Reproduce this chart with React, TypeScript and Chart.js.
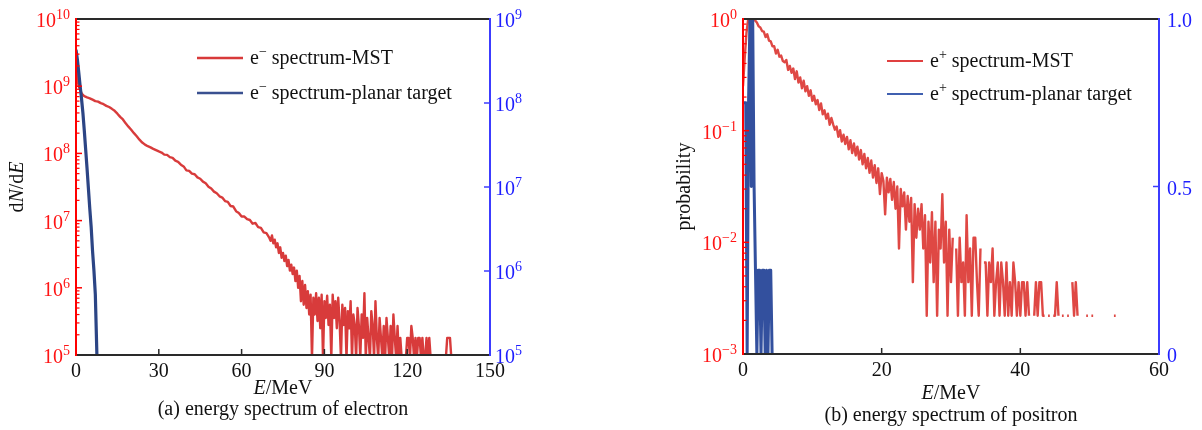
import React, { useEffect, useRef } from "react";
import { Chart, registerables } from "chart.js";
Chart.register(...registerables);

// ---------------- DATA ----------------
// (a) electron spectrum, MST (dN/dE) – head part, energies in MeV
const elecHeadE = [0, 0.25, 0.5, 0.75, 1, 1.5, 2, 2.5, 3, 4, 5, 6, 7, 8, 9, 10,
  11, 12, 13, 14, 15, 16, 17, 18, 19, 20, 21, 22, 23, 24, 25, 26, 27, 28, 29, 30,
  31, 32, 33, 34, 35, 36, 37, 38, 39, 40, 41, 42, 43, 44, 45, 46, 47, 48, 49, 50,
  51, 52, 53, 54, 55, 56, 57, 58, 59, 60, 61, 62, 63, 64, 65, 66, 67, 68, 69, 70];
const elecHeadN = [2.5e9, 1.8e9, 1.3e9, 1.12e9, 1.0e9, 8.9e8, 7.9e8, 7.4e8, 7.1e8,
  6.8e8, 6.6e8, 6.3e8, 6.0e8, 5.9e8, 5.6e8, 5.4e8,
  5.1e8, 4.9e8, 4.6e8, 4.3e8, 3.9e8, 3.5e8, 3.2e8, 2.8e8, 2.5e8, 2.25e8,
  2.0e8, 1.8e8, 1.6e8, 1.45e8, 1.35e8, 1.28e8, 1.23e8, 1.17e8, 1.12e8, 1.07e8,
  1.03e8, 9.6e7, 9.5e7, 8.8e7, 8.6e7, 7.8e7, 7.5e7, 6.8e7, 6.4e7, 5.6e7,
  5.5e7, 5.0e7, 4.9e7, 4.4e7, 4.2e7, 3.8e7, 3.6e7, 3.2e7, 3.0e7, 2.7e7,
  2.55e7, 2.3e7, 2.2e7, 1.95e7, 1.9e7, 1.65e7, 1.62e7, 1.38e7, 1.3e7, 1.15e7,
  1.15e7, 1.05e7, 1.02e7, 9.0e6, 9.2e6, 8.0e6, 7.8e6, 6.7e6, 6.5e6, 5.6e6];
// MST tail, histogram bins of 0.5 MeV starting at 70.5 MeV
const ELEC_TAIL_START = 70.5;
const ELEC_TAIL_BIN = 0.5;
const elecTailN = [
  5.0e6, 6.0e6, 4.6e6, 5.2e6, 4.0e6, 4.6e6, 3.3e6, 4.0e6, 2.8e6, 3.3e6,
  2.5e6, 3.0e6, 2.1e6, 2.6e6, 1.8e6, 2.2e6, 1.6e6, 2.0e6, 1.26e6, 1.8e6,
  1.0e6, 1.5e6, 6.3e5, 1.26e6, 5.6e5, 1.1e6, 5.0e5, 8.9e5, 4.0e5, 7.9e5,
  8.9e4, 7.1e5, 4.0e5, 8.3e5, 3.2e5, 7.1e5, 2.5e5, 7.9e5, 8.9e4, 6.3e5,
  3.55e5, 7.6e5, 2.8e5, 5.6e5, 8.9e4, 7.9e5, 3.55e5, 6.3e5, 2.5e5, 7.1e5,
  3.2e5, 8.9e4, 5.6e5, 2.8e5, 5.0e5, 8.9e4, 4.5e5, 2.5e5, 6.3e5, 8.9e4,
  4.0e5, 2.8e5, 8.9e4, 5.0e5, 2.7e5, 8.9e4, 4.0e5, 1.8e5, 8.3e5, 8.9e4,
  3.55e5, 1.8e5, 8.9e4, 4.5e5, 2.7e5, 8.9e4, 6.3e5, 1.8e5, 8.9e4, 3.55e5,
  1.8e5, 8.9e4, 2.7e5, 8.9e4, 3.55e5, 1.8e5, 8.9e4, 2.7e5, 8.9e4, 4.0e5,
  1.8e5, 8.9e4, 2.7e5, 8.9e4, 1.8e5, 8.9e4, 8.9e4, 8.9e4, 8.9e4, 1.8e5,
  1.8e5, 8.9e4, 2.7e5, 1.8e5, 8.9e4, 1.8e5, 8.9e4, 1.8e5, 1.8e5, 8.9e4,
  1.8e5, 8.9e4, 8.9e4, 1.8e5, 8.9e4, 1.8e5, 8.9e4, 8.9e4, 8.9e4, 8.9e4,
  8.9e4, 8.9e4, 8.9e4, 8.9e4, 8.9e4, 8.9e4, 8.9e4, 8.9e4, 1.8e5, 1.8e5,
  1.8e5, 8.9e4];
// (a) electron spectrum, planar target
const planarElecE = [0, 0.5, 1, 1.5, 2, 2.5, 3, 3.5, 4, 4.5, 5, 5.5, 6, 6.5, 7, 7.5, 8];
const planarElecN = [3.5e9, 2.5e9, 1.6e9, 1.0e9, 6.5e8, 4.0e8, 2.2e8, 1.15e8, 6.0e7,
  3.0e7, 1.5e7, 8.0e6, 3.5e6, 1.8e6, 8.0e5, 1.3e5, 2.0e4];

// (b) positron spectrum, MST: probability per 0.25 MeV bin (null = empty bin)
const POS_BIN = 0.25;
const posMstP = [
  0.25, 0.45, 0.75, 1.0, 1.0, 1.0, 1.0, 0.97,
  0.93, 0.86, 0.84, 0.78, 0.77, 0.69, 0.73, 0.64,
  0.63, 0.57, 0.57, 0.49, 0.53, 0.46, 0.47, 0.42,
  0.41, 0.43, 0.35, 0.38, 0.33, 0.36, 0.29, 0.34,
  0.27, 0.30, 0.24, 0.28, 0.225, 0.25, 0.205, 0.23,
  0.185, 0.205, 0.172, 0.188, 0.153, 0.175, 0.14, 0.152,
  0.128, 0.142, 0.113, 0.13, 0.114, 0.102, 0.109, 0.088,
  0.101, 0.08, 0.092, 0.076, 0.088, 0.068, 0.082, 0.063,
  0.077, 0.06, 0.072, 0.055, 0.067, 0.05, 0.062, 0.046,
  0.057, 0.042, 0.054, 0.038, 0.049, 0.034, 0.046, 0.027,
  0.0417, 0.0355, 0.0178, 0.038, 0.028, 0.037, 0.024, 0.0347,
  0.020, 0.0316, 0.0088, 0.030, 0.021, 0.028, 0.013, 0.026,
  0.0153, 0.025, 0.0044, 0.022, 0.011, 0.020, 0.013, 0.022,
  0.0088, 0.0175, 0.0022, 0.0153, 0.0066, 0.0186, 0.0044, 0.0153,
  0.0022, 0.013, 0.0088, 0.027, 0.0066, 0.0153, 0.0022, 0.013,
  0.0044, 0.011, null, 0.0088, 0.0022, 0.011, 0.0044, 0.0066,
  0.0022, 0.0175, 0.0044, 0.0088, 0.0022, 0.011, 0.011, 0.0044,
  0.0022, 0.0088, null, 0.0066, 0.0066, 0.0022, 0.0066, 0.0044,
  0.0088, 0.0022, 0.0044, 0.0066, 0.0022, 0.0066, 0.0044, 0.0022,
  0.0066, 0.0022, 0.0044, 0.0022, 0.0066, 0.0044, 0.0022, 0.0044,
  0.0022, 0.0044, 0.0044, 0.0022, 0.0044, 0.0022, null, null,
  0.0022, 0.0044, 0.0022, 0.0044, 0.0044, 0.0022, 0.0022, null,
  0.0022, 0.0022, null, 0.0022, 0.0022, 0.0044, 0.0022, null,
  0.0022, 0.0022, null, 0.0022, 0.0022, null, 0.0044, 0.0022,
  0.0044, 0.0022, null, null, null, null, 0.0022, 0.0022,
  null, 0.0022, 0.0022, null, null, null, null, null,
  null, null, null, null, null, null, 0.0022, 0.0022];
// (b) positron spectrum, planar target: probability per 0.2 MeV bin (right axis)
const POS_PLANAR_BIN = 0.2;
const posPlanarP = [0.75, 0.75, 0.75, 0, 0.75, 1.0, 0.5, 1.0, 0.5, 0.25, 0,
  0.25, 0.25, 0, 0.25, 0.25, 0, 0.25, 0, 0.25, 0.25, 0];

// axis ticks
const elecXTicks = [0, 30, 60, 90, 120, 150];
const elecYExps = [5, 6, 7, 8, 9, 10];
const elecY2Exps = [5, 6, 7, 8, 9];
const posXTicks = [0, 20, 40, 60];
const posYExps = [-3, -2, -1, 0];
const posY2Ticks = [0, 0.5, 1];
const posY2Labels = ["0", "0.5", "1.0"];

// ---------------- DRAWING HELPERS ----------------
const FONT = '"Liberation Serif", "Times New Roman", serif';
const RED_AXIS = "#ff0000";
const RED_TEXT = "#ff1414";
const BLUE_AXIS = "#3c3cff";
const BLUE_TEXT = "#1e1eff";
const BLACK = "#2a2a2a";

type Part = { t: string; it?: boolean; sup?: boolean };

function fontOf(p: Part, size: number, supSize: number) {
  return `${p.it ? "italic " : ""}${p.sup ? supSize : size}px ${FONT}`;
}

function drawRich(ctx: CanvasRenderingContext2D, parts: Part[], x: number, y: number,
  align: "left" | "center" | "right", color: string, size = 20, supSize = 14, supRaise = 8) {
  let w = 0;
  for (const p of parts) { ctx.font = fontOf(p, size, supSize); w += ctx.measureText(p.t).width; }
  let cx = align === "left" ? x : align === "center" ? x - w / 2 : x - w;
  ctx.textAlign = "left";
  ctx.textBaseline = "alphabetic";
  ctx.fillStyle = color;
  for (const p of parts) {
    ctx.font = fontOf(p, size, supSize);
    ctx.fillText(p.t, cx, p.sup ? y - supRaise : y);
    cx += ctx.measureText(p.t).width;
  }
}

function seg(ctx: CanvasRenderingContext2D, x1: number, y1: number, x2: number, y2: number) {
  ctx.beginPath(); ctx.moveTo(x1, y1); ctx.lineTo(x2, y2); ctx.stroke();
}

const pow = (e: number) => Math.pow(10, e);
const expLabel = (e: number): Part[] => [{ t: "10" }, { t: e < 0 ? "\u2212" + Math.abs(e) : String(e), sup: true }];
function minorsOf(exps: number[]) {
  const out: number[] = [];
  for (let i = 0; i < exps.length - 1; i++) for (let k = 2; k <= 9; k++) out.push(k * pow(exps[i]));
  return out;
}

interface Decor {
  xTicks: number[];
  yMajors: number[]; yLabels: Part[][]; yMinors: number[];
  y2Ticks: number[]; y2Labels: Part[][]; y2Gap: number;
  yTitle: Part[]; yTitleX: number;
  xTitle: Part[]; xTitleY: number;
  caption: Part[]; captionY: number;
  legend: { color: string; width: number; lineY: number; parts: Part[] }[];
  legX1: number; legX2: number; legTextX: number;
}

function drawDecor(chart: any, d: Decor) {
  const ctx: CanvasRenderingContext2D = chart.ctx;
  const a = chart.chartArea;
  const xs = chart.scales.x, ys = chart.scales.y, y2 = chart.scales.y2;
  ctx.save();
  ctx.lineCap = "butt";
  // ticks (inward)
  ctx.lineWidth = 1.5;
  ctx.strokeStyle = RED_AXIS;
  for (const v of d.yMajors) { const py = ys.getPixelForValue(v); seg(ctx, a.left, py, a.left + 6, py); }
  ctx.lineWidth = 1.2;
  for (const v of d.yMinors) { const py = ys.getPixelForValue(v); seg(ctx, a.left, py, a.left + 3.5, py); }
  ctx.lineWidth = 1.5;
  ctx.strokeStyle = BLUE_AXIS;
  for (const v of d.y2Ticks) { const py = y2.getPixelForValue(v); seg(ctx, a.right - 6, py, a.right, py); }
  ctx.strokeStyle = BLACK;
  for (const v of d.xTicks) { const px = xs.getPixelForValue(v); seg(ctx, px, a.bottom, px, a.bottom - 6); }
  // frame
  ctx.lineWidth = 2;
  ctx.strokeStyle = BLACK;
  seg(ctx, a.left, a.top, a.right, a.top);
  seg(ctx, a.left, a.bottom, a.right, a.bottom);
  ctx.strokeStyle = RED_AXIS;
  seg(ctx, a.left, a.top - 1, a.left, a.bottom + 1);
  ctx.strokeStyle = BLUE_AXIS;
  seg(ctx, a.right, a.top - 1, a.right, a.bottom + 1);

  // tick labels
  d.yMajors.forEach((v, i) => {
    const py = ys.getPixelForValue(v);
    drawRich(ctx, d.yLabels[i], a.left - 6, py + 8, "right", RED_TEXT);
  });
  d.y2Ticks.forEach((v, i) => {
    const py = y2.getPixelForValue(v);
    drawRich(ctx, d.y2Labels[i], a.right + d.y2Gap, py + 8, "left", BLUE_TEXT);
  });
  ctx.font = `20px ${FONT}`;
  ctx.fillStyle = "#111";
  ctx.textAlign = "center";
  ctx.textBaseline = "alphabetic";
  for (const v of d.xTicks) ctx.fillText(String(v), xs.getPixelForValue(v), a.bottom + 22);

  // titles
  const cxMid = (a.left + a.right) / 2;
  drawRich(ctx, d.xTitle, cxMid, d.xTitleY, "center", "#111");
  drawRich(ctx, d.caption, cxMid, d.captionY, "center", "#111");
  ctx.save();
  ctx.translate(d.yTitleX, (a.top + a.bottom) / 2);
  ctx.rotate(-Math.PI / 2);
  drawRich(ctx, d.yTitle, 0, 0, "center", "#111");
  ctx.restore();

  // legend
  for (const l of d.legend) {
    ctx.strokeStyle = l.color;
    ctx.lineWidth = l.width;
    seg(ctx, d.legX1, l.lineY, d.legX2, l.lineY);
    drawRich(ctx, l.parts, d.legTextX, l.lineY + 6, "left", "#111");
  }
  ctx.restore();
}

function makeChart(canvas: HTMLCanvasElement, datasets: any[], scales: any, padding: any, decor: Decor) {
  return new Chart(canvas, {
    type: "line",
    data: { datasets },
    options: {
      responsive: false,
      animation: false,
      devicePixelRatio: 1,
      events: [],
      layout: { padding },
      plugins: { legend: { display: false }, tooltip: { enabled: false } },
      elements: { point: { radius: 0 }, line: { tension: 0 } },
      scales,
    },
    plugins: [{ id: "decor", afterDraw: (c: any) => drawDecor(c, decor) }],
  } as any);
}

export default function App() {
  const leftRef = useRef<HTMLCanvasElement>(null);
  const rightRef = useRef<HTMLCanvasElement>(null);

  useEffect(() => {
    const elecMst = [
      ...elecHeadE.map((e, i) => ({ x: e, y: elecHeadN[i] })),
      ...elecTailN.map((v, i) => ({ x: ELEC_TAIL_START + i * ELEC_TAIL_BIN, y: v })),
    ];
    const elecPlanar = planarElecE.map((e, i) => ({ x: e, y: planarElecN[i] }));
    const posMst = posMstP.map((v, i) => ({ x: i * POS_BIN, y: v }));
    const posPlanar = posPlanarP.map((v, i) => ({ x: i * POS_PLANAR_BIN, y: v }));

    const left = makeChart(
      leftRef.current!,
      [
        { data: elecPlanar, yAxisID: "y", borderColor: "#2c4585", borderWidth: 3.2, borderJoinStyle: "round" },
        { data: elecMst, yAxisID: "y", borderColor: "rgba(214,48,48,0.95)", borderWidth: 2.4, borderJoinStyle: "round" },
      ],
      {
        x: { type: "linear", min: 0, max: 150, display: false, bounds: "data" },
        y: { type: "logarithmic", min: 1e5, max: 1e10, display: false },
        y2: { type: "logarithmic", min: 1e5, max: 1e9, display: false, position: "right" },
      },
      { left: 76, right: 110, top: 19, bottom: 75 },
      {
        xTicks: elecXTicks,
        yMajors: elecYExps.map(pow), yLabels: elecYExps.map(expLabel), yMinors: minorsOf(elecYExps),
        y2Ticks: elecY2Exps.map(pow), y2Labels: elecY2Exps.map(expLabel), y2Gap: 5,
        yTitle: [{ t: "d" }, { t: "N", it: true }, { t: "/d" }, { t: "E", it: true }], yTitleX: 23,
        xTitle: [{ t: "E", it: true }, { t: "/MeV" }], xTitleY: 394,
        caption: [{ t: "(a) energy spectrum of electron" }], captionY: 415,
        legend: [
          { color: "#d83a3a", width: 2.5, lineY: 58, parts: [{ t: "e" }, { t: "\u2212", sup: true }, { t: " spectrum-MST" }] },
          { color: "#3a5090", width: 2.5, lineY: 93, parts: [{ t: "e" }, { t: "\u2212", sup: true }, { t: " spectrum-planar target" }] },
        ],
        legX1: 197, legX2: 243, legTextX: 250,
      }
    );

    const right = makeChart(
      rightRef.current!,
      [
        { data: posPlanar, yAxisID: "y2", borderColor: "#33509e", borderWidth: 3, borderJoinStyle: "round" },
        { data: posMst, yAxisID: "y", borderColor: "rgba(220,56,52,0.92)", borderWidth: 2.4, borderJoinStyle: "round", spanGaps: false },
      ],
      {
        x: { type: "linear", min: 0, max: 60, display: false, bounds: "data" },
        y: { type: "logarithmic", min: 1e-3, max: 1, display: false },
        y2: { type: "linear", min: 0, max: 1, display: false, position: "right" },
      },
      { left: 143, right: 43, top: 19, bottom: 76 },
      {
        xTicks: posXTicks,
        yMajors: posYExps.map(pow), yLabels: posYExps.map(expLabel), yMinors: minorsOf(posYExps),
        y2Ticks: posY2Ticks, y2Labels: posY2Labels.map((s) => [{ t: s }]), y2Gap: 8,
        yTitle: [{ t: "probability" }], yTitleX: 90,
        xTitle: [{ t: "E", it: true }, { t: "/MeV" }], xTitleY: 399,
        caption: [{ t: "(b) energy spectrum of positron" }], captionY: 421,
        legend: [
          { color: "#e04040", width: 2.2, lineY: 61, parts: [{ t: "e" }, { t: "+", sup: true }, { t: " spectrum-MST" }] },
          { color: "#4060b0", width: 2.2, lineY: 94, parts: [{ t: "e" }, { t: "+", sup: true }, { t: " spectrum-planar target" }] },
        ],
        legX1: 287, legX2: 323, legTextX: 330,
      }
    );

    return () => { left.destroy(); right.destroy(); };
  }, []);

  return (
    <div style={{ position: "absolute", left: 0, top: 0, width: 1202, height: 430, background: "#fff", overflow: "hidden" }}>
      <canvas ref={leftRef} width={600} height={430} style={{ position: "absolute", left: 0, top: 0, width: 600, height: 430 }} />
      <canvas ref={rightRef} width={602} height={430} style={{ position: "absolute", left: 600, top: 0, width: 602, height: 430 }} />
    </div>
  );
}
